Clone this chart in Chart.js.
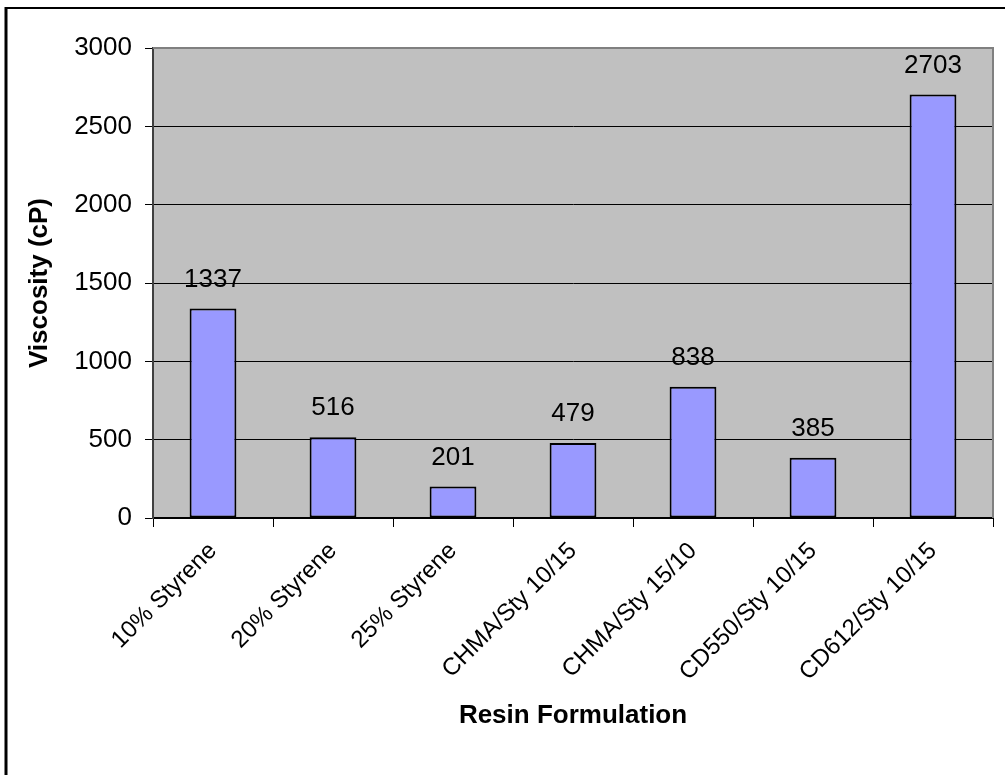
<!DOCTYPE html>
<html lang="en">
<head>
    <meta charset="UTF-8">
    <title>Resin Viscosity</title>
    <script src="https://cdn.jsdelivr.net/npm/chart.js"></script>
    <style>
        body {
            margin: 0;
            background-color: white;
        }
        #wrap {
            width: 1005px;
            height: 775px;
            position: relative;
        }
    </style>
</head>
<body>
    <div id="wrap">
        <canvas id="viscosityChart"></canvas>
    </div>

    <script>
        // Chart data
        const formulations = ["10% Styrene", "20% Styrene", "25% Styrene", "CHMA/Sty 10/15", "CHMA/Sty 15/10", "CD550/Sty 10/15", "CD612/Sty 10/15"];
        const viscosity = [1337, 516, 201, 479, 838, 385, 2703];
        const yTicks = [0, 500, 1000, 1500, 2000, 2500, 3000];

        const FONT = "'Liberation Sans', Arial, sans-serif";

        // gray plot background, outer frame and plot border
        const framePlugin = {
            id: 'frame',
            beforeDraw(chart) {
                const { ctx, chartArea: a } = chart;
                ctx.save();
                ctx.fillStyle = '#fff';
                ctx.fillRect(0, 0, chart.width, chart.height);
                ctx.fillStyle = '#c0c0c0';
                ctx.fillRect(a.left, a.top, a.right - a.left, a.bottom - a.top);
                // outer border (only left and top are inside the picture)
                ctx.strokeStyle = '#000';
                ctx.lineWidth = 3;
                ctx.beginPath();
                ctx.moveTo(6, 7);
                ctx.lineTo(6, chart.height);
                ctx.stroke();
                ctx.lineWidth = 2;
                ctx.beginPath();
                ctx.moveTo(5, 8);
                ctx.lineTo(chart.width, 8);
                ctx.stroke();
                ctx.restore();
            },
            afterDraw(chart) {
                const { ctx, chartArea: a } = chart;
                ctx.save();
                ctx.strokeStyle = '#808080';
                ctx.lineWidth = 2;
                ctx.beginPath();
                ctx.moveTo(a.left, a.top);
                ctx.lineTo(a.right, a.top);
                ctx.lineTo(a.right, a.bottom);
                ctx.stroke();
                ctx.restore();
            }
        };

        // value labels above each bar
        const valuePlugin = {
            id: 'values',
            afterDatasetsDraw(chart) {
                const { ctx } = chart;
                const meta = chart.getDatasetMeta(0);
                ctx.save();
                ctx.font = '26px ' + FONT;
                ctx.fillStyle = '#000';
                ctx.textAlign = 'center';
                ctx.textBaseline = 'alphabetic';
                meta.data.forEach((bar, i) => {
                    ctx.fillText(viscosity[i], bar.x, bar.y - 22);
                });
                ctx.restore();
            }
        };

        const chartData = {
            labels: formulations,
            datasets: [{
                data: viscosity,
                backgroundColor: '#9999ff',
                borderColor: '#000',
                borderWidth: 2,
                borderSkipped: false,
                categoryPercentage: 1,
                barPercentage: 0.39
            }]
        };

        const chartOptions = {
            responsive: true,
            maintainAspectRatio: false,
            animation: false,
            layout: {
                padding: { left: 0, top: 48, right: 12, bottom: 0 }
            },
            plugins: {
                legend: { display: false },
                tooltip: { enabled: false }
            },
            scales: {
                x: {
                    afterFit(scale) { scale.height = 257; },
                    grid: {
                        drawOnChartArea: false,
                        drawTicks: true,
                        tickLength: 9,
                        color: '#000',
                        lineWidth: 1
                    },
                    border: { color: '#000', width: 2 },
                    ticks: {
                        minRotation: 45,
                        maxRotation: 45,
                        padding: 10,
                        color: '#000',
                        font: { family: FONT, size: 24 }
                    },
                    title: {
                        display: true,
                        text: 'Resin Formulation',
                        color: '#000',
                        font: { family: FONT, size: 26, weight: 'bold' },
                        padding: { top: 0, bottom: 44 }
                    }
                },
                y: {
                    min: 0,
                    max: 3000,
                    afterFit(scale) { scale.width = 153; },
                    afterBuildTicks(scale) {
                        scale.ticks = yTicks.map(v => ({ value: v }));
                    },
                    grid: {
                        color: '#000',
                        lineWidth: 1,
                        tickLength: 8
                    },
                    border: { color: '#404040', width: 2 },
                    ticks: {
                        padding: 13,
                        color: '#000',
                        font: { family: FONT, size: 26 },
                        callback: v => String(v)
                    },
                    title: {
                        display: true,
                        text: 'Viscosity (cP)',
                        color: '#000',
                        font: { family: FONT, size: 26, weight: 'bold' },
                        padding: { top: 24, bottom: 0 }
                    }
                }
            }
        };

        const ctx = document.getElementById('viscosityChart').getContext('2d');
        const viscosityChart = new Chart(ctx, {
            type: 'bar',
            data: chartData,
            options: chartOptions,
            plugins: [framePlugin, valuePlugin]
        });
    </script>
</body>
</html>
